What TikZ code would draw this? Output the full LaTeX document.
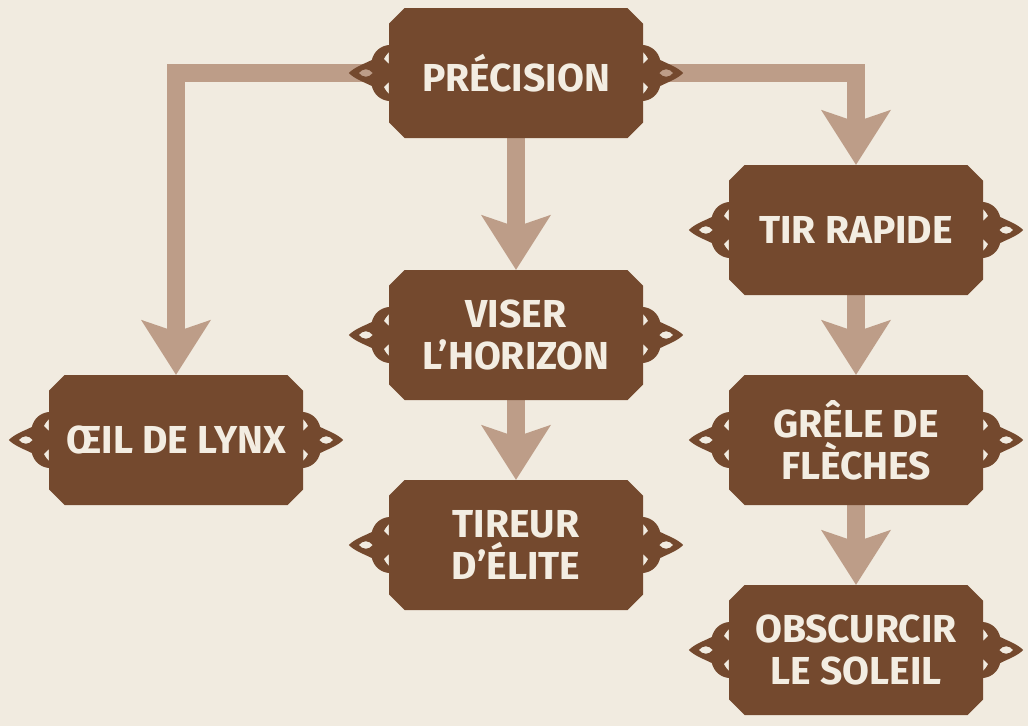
\documentclass[tikz,border=0pt]{standalone}
\usepackage{fontspec}
\setmainfont{Fira Sans}
\usetikzlibrary{arrows.meta,shapes.misc,backgrounds}

\definecolor{parchment}{RGB}{241,235,224}
\definecolor{bark}{RGB}{116,73,46}
\definecolor{twig}{RGB}{189,157,136}
\definecolor{cream}{RGB}{243,237,226}

\tikzset{
  skill/.style={chamfered rectangle, chamfered rectangle xsep=12pt, fill=bark, text=cream,
    minimum width=254pt, minimum height=130pt, inner sep=0pt, align=center,
    font=\bfseries\fontsize{39}{42}\selectfont},
  branch/.style={draw=twig, line width=18pt, -{Stealth[length=55pt,width=70pt,inset=12pt,line width=0pt 0]}},
  knot/.pic={
    \fill[bark, even odd rule]
      (0,-28) .. controls (-9,-27) and (-15,-21) .. (-17,-13)
              .. controls (-25,-9) and (-34,-6) .. (-40,0)
              .. controls (-34,6) and (-25,9) .. (-17,13)
              .. controls (-15,21) and (-9,27) .. (0,28) -- cycle
      (-30,0) .. controls (-26,-5) and (-20,-5) .. (-16,0) .. controls (-20,5) and (-26,5) .. (-30,0) -- cycle
      (0,-21) .. controls (-2,-19) and (-4,-16) .. (-5,-14) .. controls (-3,-12) and (-1,-10) .. (0,-9) -- cycle
      (0,21) .. controls (-2,19) and (-4,16) .. (-5,14) .. controls (-3,12) and (-1,10) .. (0,9) -- cycle;
  }
}

\begin{document}
\begin{tikzpicture}[x=1pt,y=-1pt]
  \useasboundingbox (0,0) rectangle (1028,726);
  \node[skill] (prec) at (516,73) {PRÉCISION};
  \node[skill] (tir) at (856,230) {TIR RAPIDE};
  \node[skill] (viser) at (516,335) {VISER\\L’HORIZON};
  \node[skill] (oeil) at (176,440) {ŒIL DE LYNX};
  \node[skill] (grele) at (856,440) {GRÊLE DE\\FLÈCHES};
  \node[skill] (tireur) at (516,545) {TIREUR\\D’ÉLITE};
  \node[skill] (obsc) at (856,650) {OBSCURCIR\\LE SOLEIL};
  \foreach \n in {prec,tir,viser,oeil,grele,tireur,obsc} {
    \pic at (\n.west) {knot};
    \pic[xscale=-1] at (\n.east) {knot};
  }
  \begin{pgfonlayer}{background}
    \fill[parchment] (0,0) rectangle (1028,726);
    \draw[branch] (prec.west) -| (oeil.north);
    \draw[branch] (prec.east) -| (tir.north);
    \draw[branch] (prec.south) -- (viser.north);
    \draw[branch] (viser.south) -- (tireur.north);
    \draw[branch] (tir.south) -- (grele.north);
    \draw[branch] (grele.south) -- (obsc.north);
  \end{pgfonlayer}
\end{tikzpicture}
\end{document}
